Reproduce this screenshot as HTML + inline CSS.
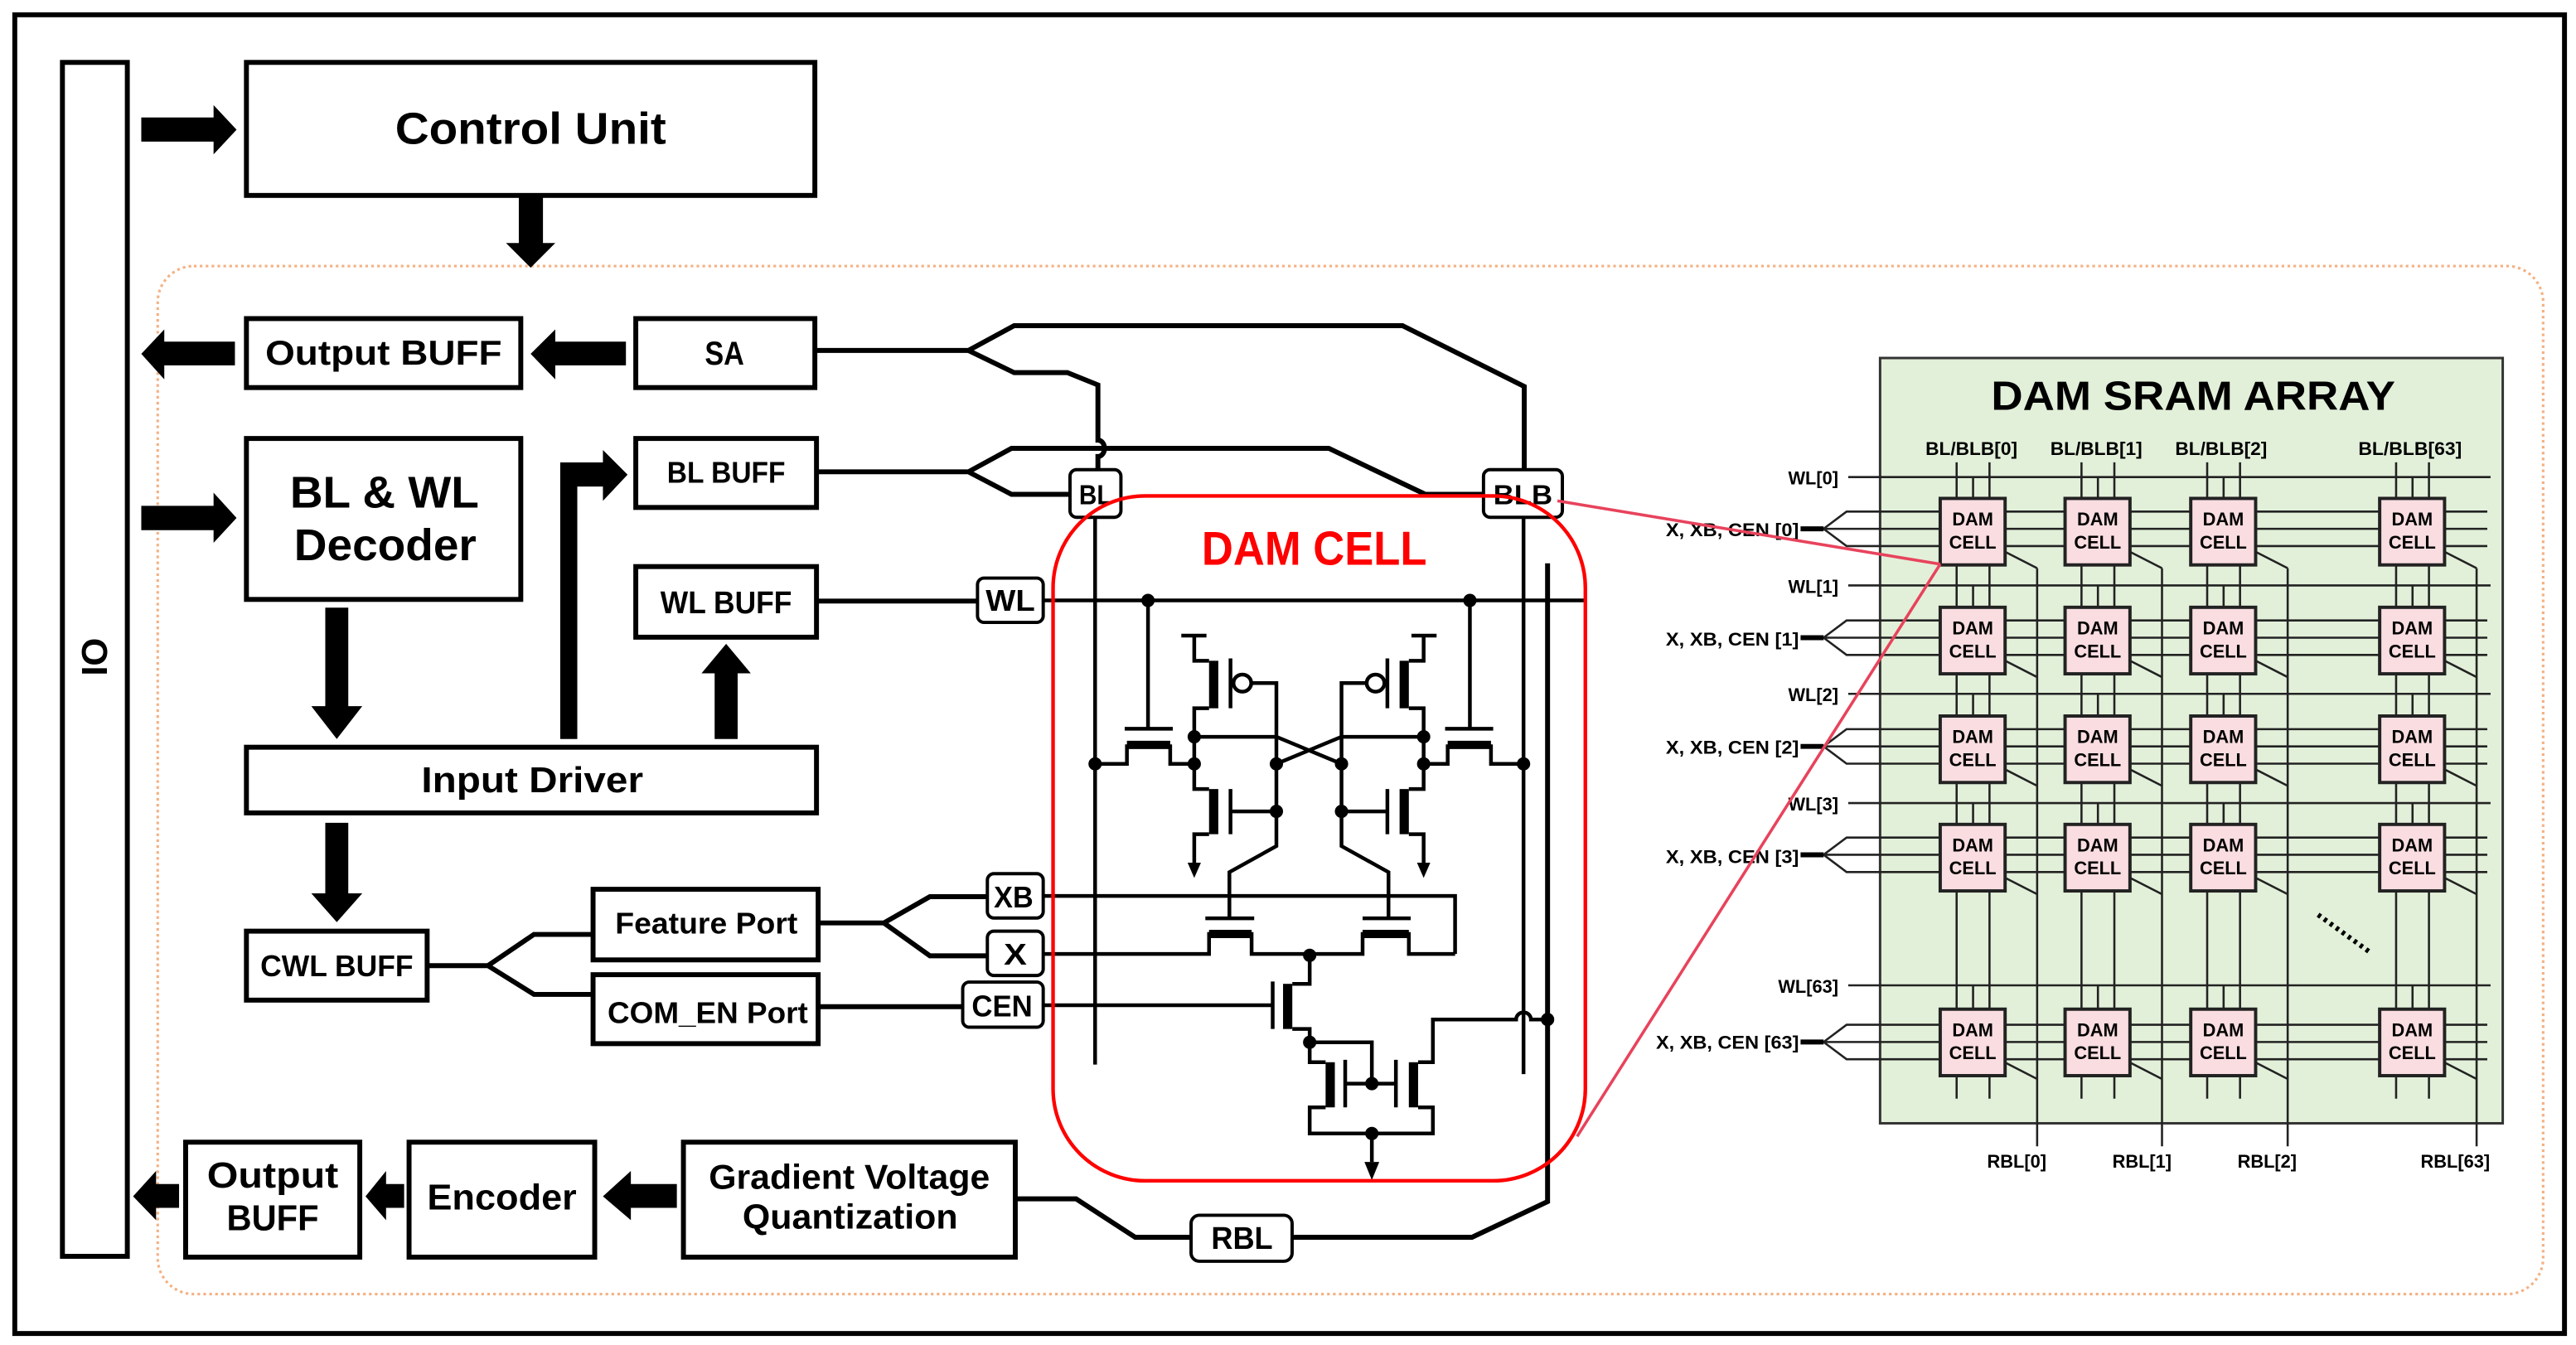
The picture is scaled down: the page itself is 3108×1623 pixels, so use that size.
<!DOCTYPE html>
<html><head><meta charset="utf-8"><style>
html,body{margin:0;padding:0;background:#fff}
svg{display:block}
text{font-family:"Liberation Sans",sans-serif;font-weight:bold;fill:#000}
.b{fill:#fff;stroke:#000;stroke-width:3}
.w{fill:none;stroke:#000;stroke-width:3;stroke-linejoin:miter}
.lb{fill:#fff;stroke:#000;stroke-width:2}
.cs{fill:none;stroke:#000;stroke-width:4.5;vector-effect:non-scaling-stroke}
.ct{fill:none;stroke:#000;stroke-width:10;vector-effect:non-scaling-stroke}
.al{fill:none;stroke:#222;stroke-width:1.3}
.cell{fill:#f9dde0;stroke:#222;stroke-width:2}
.ct2{font-size:11px}
</style></head><body>
<svg width="3108" height="1623" viewBox="0 0 1568 819" preserveAspectRatio="none" xmlns="http://www.w3.org/2000/svg">
<rect x="0" y="0" width="1568" height="819" fill="#fff"/>
<rect x="9" y="9" width="1552" height="803" fill="none" stroke="#000" stroke-width="3"/>

<!-- dotted region -->
<rect x="96" y="162" width="1452" height="626" rx="22" fill="none" stroke="#f4b183" stroke-width="1.6" stroke-dasharray="1.6 2"/>

<!-- IO bar -->
<rect x="38" y="38" width="39.5" height="727" class="b"/>
<text transform="translate(65,400) rotate(-90)" font-size="22" text-anchor="middle">IO</text>

<!-- Control unit -->
<rect x="150" y="38" width="346" height="81" class="b"/>
<text x="323" y="87.5" font-size="27" text-anchor="middle" textLength="165" lengthAdjust="spacingAndGlyphs">Control Unit</text>
<polygon points="86,71.5 130,71.5 130,64 144,79 130,94 130,86.2 86,86.2"/>
<polygon points="315.8,119 330.5,119 330.5,148 338,148 323,163 308,148 315.8,148"/>

<!-- Output BUFF top -->
<rect x="150" y="194" width="167" height="42" class="b"/>
<text x="233.5" y="222" font-size="21" text-anchor="middle" textLength="144" lengthAdjust="spacingAndGlyphs">Output BUFF</text>
<polygon points="143,208 100,208 100,200.6 86,215.5 100,231 100,222.5 143,222.5"/>
<rect x="387" y="194" width="109" height="42" class="b"/>
<text x="441" y="222" font-size="20" text-anchor="middle" textLength="24" lengthAdjust="spacingAndGlyphs">SA</text>
<polygon points="381,208 338,208 338,200.6 323,215.5 338,231 338,222.5 381,222.5"/>

<!-- Decoder -->
<rect x="150" y="267" width="167" height="98" class="b"/>
<text x="234" y="309" font-size="27" text-anchor="middle" textLength="115" lengthAdjust="spacingAndGlyphs">BL &amp; WL</text>
<text x="234.5" y="341" font-size="27" text-anchor="middle" textLength="111" lengthAdjust="spacingAndGlyphs">Decoder</text>
<polygon points="86,308 130,308 130,300 144,315.4 130,330.5 130,322.8 86,322.8"/>

<rect x="387" y="267" width="110" height="42" class="b"/>
<text x="442" y="294" font-size="18" text-anchor="middle" textLength="72" lengthAdjust="spacingAndGlyphs">BL BUFF</text>
<rect x="387" y="345" width="110" height="43" class="b"/>
<text x="442" y="373.5" font-size="19" text-anchor="middle" textLength="80" lengthAdjust="spacingAndGlyphs">WL BUFF</text>

<!-- arrows around input driver -->
<polygon points="198,370 212,370 212,430 220.5,430 205,450 189.5,430 198,430"/>
<path d="M341,450 V281.6 H367 V274 L382,289 L367,305 V296.3 H351.4 V450 Z"/>
<polygon points="435,450 449,450 449,410 457,410 442,392 427,410 435,410"/>
<rect x="150" y="455" width="347" height="40" class="b"/>
<text x="324" y="482.5" font-size="22" text-anchor="middle" textLength="135" lengthAdjust="spacingAndGlyphs">Input Driver</text>
<polygon points="198,501 212,501 212,544 220.5,544 205,561.5 189.5,544 198,544"/>

<!-- CWL buff, ports -->
<rect x="150" y="567" width="110" height="42" class="b"/>
<text x="205" y="594.5" font-size="18" text-anchor="middle" textLength="93" lengthAdjust="spacingAndGlyphs">CWL BUFF</text>
<path class="w" d="M260,588 H297 L325,569 H361 M297,588 L325,605.5 H361"/>
<rect x="361" y="541.5" width="137" height="43" class="b"/>
<text x="430" y="568.5" font-size="18" text-anchor="middle" textLength="111" lengthAdjust="spacingAndGlyphs">Feature Port</text>
<rect x="361" y="593.5" width="137" height="42" class="b"/>
<text x="430.8" y="623" font-size="18" text-anchor="middle" textLength="122" lengthAdjust="spacingAndGlyphs">COM_EN Port</text>
<path class="w" d="M498,562 H538 L566,546 H601 M538,562 L566,582 H601 M498,613 H586"/>

<!-- bottom row -->
<rect x="113" y="695.5" width="106" height="70" class="b"/>
<text x="166" y="723" font-size="22" text-anchor="middle" textLength="80" lengthAdjust="spacingAndGlyphs">Output</text>
<text x="166" y="749" font-size="22" text-anchor="middle" textLength="56" lengthAdjust="spacingAndGlyphs">BUFF</text>
<rect x="249" y="695.5" width="113" height="70" class="b"/>
<text x="305.5" y="736.5" font-size="22" text-anchor="middle" textLength="91" lengthAdjust="spacingAndGlyphs">Encoder</text>
<rect x="416" y="695.5" width="202" height="70" class="b"/>
<text x="517" y="724" font-size="21" text-anchor="middle" textLength="171" lengthAdjust="spacingAndGlyphs">Gradient Voltage</text>
<text x="517.5" y="748" font-size="21" text-anchor="middle" textLength="131" lengthAdjust="spacingAndGlyphs">Quantization</text>
<polygon points="412,721 384,721 384,713 367,728.5 384,743 384,735.5 412,735.5"/>
<polygon points="246,721 235,721 235,713 222.5,728.5 235,743 235,735.5 246,735.5"/>
<polygon points="109,721 95,721 95,713 81,728.5 95,743 95,735.5 109,735.5"/>

<!-- SA / BL BUFF wiring -->
<path class="w" d="M496,213.4 H589.5 L617.3,198.3 H853.7 L927.8,235.3 V287"/>
<path class="w" d="M589.5,213.4 L617.3,226.9 H649.7 L668.3,234.4 V268 a4,5 0 0 1 0,10 V286"/>
<path class="w" d="M497,287.3 H589.5 L615.7,273 H808.8 L867.6,301 H904 M589.5,287.3 L615.7,301 H652"/>
<path class="w" d="M497,366 H596"/>
<path class="w" d="M618,730 H655 L691,753.4 H725 M786,753.4 H896 L942,731.7 V343"/>

<!-- DAM cell circuit (zoom coords) -->
<g transform="translate(625.6,282.3) scale(0.2252,0.2893)">
<path class="cs" d="M182,110 V1265 M1340,110 V1285 M45,288 H1505 M325,288 V555 M1195,288 V555"/>
<!-- access transistors -->
<path class="cs" d="M262,558 H392 M182,632 H268 V595 H385 V632 H455"/>
<path class="ct" d="M268,592 H385"/>
<path class="cs" d="M1258,558 H1128 M1338,632 H1252 V595 H1135 V632 H1065"/>
<path class="ct" d="M1252,592 H1135"/>
<!-- left inverter -->
<path class="cs" d="M415,362 H483 M450,362 V415 H490 M490,515 H450 V685 H490 M490,780 H450 V840 M548,410 V515 M605,462 H672 V805 L545,860 V957 M548,685 V780 M548,732 H672"/>
<rect x="490" y="415" width="25" height="100"/><rect x="490" y="685" width="25" height="95"/>
<ellipse cx="580" cy="462" rx="24" ry="18" fill="#fff" stroke="#000" stroke-width="4.5" vector-effect="non-scaling-stroke"/>
<polygon points="432,840 468,840 450,872"/>
<!-- right inverter -->
<path class="cs" d="M1105,362 H1037 M1070,362 V415 H1030 M1030,515 H1070 V685 H1030 M1030,780 H1070 V840 M972,410 V515 M915,462 H848 V805 L975,860 V957 M972,685 V780 M972,732 H848"/>
<rect x="1005" y="415" width="25" height="100"/><rect x="1005" y="685" width="25" height="95"/>
<ellipse cx="940" cy="462" rx="24" ry="18" fill="#fff" stroke="#000" stroke-width="4.5" vector-effect="non-scaling-stroke"/>
<polygon points="1052,840 1088,840 1070,872"/>
<!-- cross -->
<path class="cs" d="M450,575 H672 L848,632 M1070,575 H848 L672,632"/>
<!-- XB / X -->
<path class="cs" d="M45,910 H1155 V1032 M45,1032 H490 V990 H605 V1032 H905 V990 H1030 V1032 H1155 M480,957 H612 M905,957 H1035"/>
<path class="ct" d="M490,990 H605 M905,990 H1030"/>
<!-- CEN stack -->
<path class="cs" d="M762,1032 V1095 H715 M715,1190 H762 V1260 H805 M662,1090 V1190 M45,1140 H662 M762,1218 H930 V1305 M858,1305 H995 M858,1255 V1355 M995,1255 V1355 M805,1355 H762 V1410 H1095 V1355 H1055 M1055,1260 H1095 V1170 H1320 a20,15 0 0 1 40,0 H1405 M930,1410 V1470"/>
<rect x="690" y="1095" width="25" height="95"/>
<rect x="805" y="1260" width="25" height="95"/><rect x="1030" y="1260" width="25" height="95"/>
<polygon points="910,1470 950,1470 930,1508"/>
<g>
<ellipse cx="325" cy="288" rx="18" ry="14"/><ellipse cx="1195" cy="288" rx="18" ry="14"/>
<ellipse cx="182" cy="632" rx="18" ry="14"/><ellipse cx="1340" cy="632" rx="18" ry="14"/>
<ellipse cx="450" cy="575" rx="18" ry="14"/><ellipse cx="450" cy="632" rx="18" ry="14"/>
<ellipse cx="1070" cy="575" rx="18" ry="14"/><ellipse cx="1070" cy="632" rx="18" ry="14"/>
<ellipse cx="672" cy="632" rx="18" ry="14"/><ellipse cx="848" cy="632" rx="18" ry="14"/>
<ellipse cx="672" cy="732" rx="18" ry="14"/><ellipse cx="848" cy="732" rx="18" ry="14"/>
<ellipse cx="762" cy="1035" rx="18" ry="14"/><ellipse cx="762" cy="1218" rx="18" ry="14"/>
<ellipse cx="930" cy="1305" rx="18" ry="14"/><ellipse cx="930" cy="1410" rx="18" ry="14"/>
<ellipse cx="1405" cy="1170" rx="18" ry="14"/>
</g>
</g>

<!-- label boxes -->
<rect x="651.3" y="286" width="31" height="29" rx="4" class="lb"/>
<text x="666.8" y="307" font-size="17" text-anchor="middle" textLength="20" lengthAdjust="spacingAndGlyphs">BL</text>
<rect x="903" y="286" width="48" height="29" rx="4" class="lb"/>
<text x="927" y="307" font-size="17" text-anchor="middle" textLength="36" lengthAdjust="spacingAndGlyphs">BLB</text>
<rect x="595" y="352" width="40" height="27" rx="4" class="lb"/>
<text x="615" y="372" font-size="18" text-anchor="middle" textLength="30" lengthAdjust="spacingAndGlyphs">WL</text>
<rect x="601" y="532" width="34" height="27" rx="4" class="lb"/>
<text x="617" y="552.5" font-size="18" text-anchor="middle" textLength="24" lengthAdjust="spacingAndGlyphs">XB</text>
<rect x="601" y="567" width="34" height="27" rx="4" class="lb"/>
<text x="618" y="587.5" font-size="18" text-anchor="middle" textLength="14" lengthAdjust="spacingAndGlyphs">X</text>
<rect x="586" y="598" width="49" height="27.5" rx="4" class="lb"/>
<text x="610" y="619" font-size="18" text-anchor="middle" textLength="37" lengthAdjust="spacingAndGlyphs">CEN</text>
<rect x="725" y="740" width="61.5" height="28" rx="5" class="lb"/>
<text x="756" y="760.5" font-size="19" text-anchor="middle" textLength="37.5" lengthAdjust="spacingAndGlyphs">RBL</text>

<!-- red outline -->
<rect x="641" y="302" width="324" height="417" rx="56" fill="none" stroke="#ff0000" stroke-width="2.2"/>
<text x="800" y="344" font-size="29" text-anchor="middle" textLength="137" lengthAdjust="spacingAndGlyphs" style="fill:#ff0000">DAM CELL</text>

<!-- ARRAY -->
<rect x="1144.4" y="218" width="1379" height="466" fill="#e2f0d9" stroke="#333" stroke-width="1.5" transform="translate(0,0)" style="width:379px"/>
<text x="1335" y="249.5" font-size="25" text-anchor="middle" textLength="246" lengthAdjust="spacingAndGlyphs">DAM SRAM ARRAY</text>
<g font-size="11" text-anchor="middle">
<text x="1200" y="277" textLength="56" lengthAdjust="spacingAndGlyphs">BL/BLB[0]</text>
<text x="1276" y="277" textLength="56" lengthAdjust="spacingAndGlyphs">BL/BLB[1]</text>
<text x="1352" y="277" textLength="56" lengthAdjust="spacingAndGlyphs">BL/BLB[2]</text>
<text x="1467" y="277" textLength="63" lengthAdjust="spacingAndGlyphs">BL/BLB[63]</text>
</g>
<!-- WL lines -->
<path class="al" d="M1125,290.5 H1516 M1125,356.5 H1516 M1125,422.5 H1516 M1125,489 H1516 M1125,600 H1516"/>
<g font-size="11" text-anchor="end">
<text x="1119" y="295">WL[0]</text><text x="1119" y="361">WL[1]</text><text x="1119" y="427">WL[2]</text><text x="1119" y="493.5">WL[3]</text><text x="1119" y="604.5">WL[63]</text>
<text x="1095" y="326.5" textLength="81" lengthAdjust="spacingAndGlyphs">X, XB, CEN [0]</text>
<text x="1095" y="393" textLength="81" lengthAdjust="spacingAndGlyphs">X, XB, CEN [1]</text>
<text x="1095" y="459" textLength="81" lengthAdjust="spacingAndGlyphs">X, XB, CEN [2]</text>
<text x="1095" y="525.5" textLength="81" lengthAdjust="spacingAndGlyphs">X, XB, CEN [3]</text>
<text x="1095" y="638.5" textLength="87" lengthAdjust="spacingAndGlyphs">X, XB, CEN [63]</text>
</g>
<!-- X/XB/CEN triple lines -->
<path class="al" d="M1110,322 L1124,311.5 H1514 M1110,322 H1514 M1110,322 L1124,332.5 H1514
M1110,388.3 L1124,377.8 H1514 M1110,388.3 H1514 M1110,388.3 L1124,398.8 H1514
M1110,454.5 L1124,444 H1514 M1110,454.5 H1514 M1110,454.5 L1124,465 H1514
M1110,520.5 L1124,510 H1514 M1110,520.5 H1514 M1110,520.5 L1124,531 H1514
M1110,634.5 L1124,624 H1514 M1110,634.5 H1514 M1110,634.5 L1124,645 H1514"/>
<path stroke="#000" stroke-width="3" d="M1096,322 H1110 M1096,388.3 H1110 M1096,454.5 H1110 M1096,520.5 H1110 M1096,634.5 H1110"/>
<!-- BL lines, stubs, RBL -->
<path class="al" d="M1191,281.5 V669 M1211,281.5 V669 M1267,281.5 V669 M1287,281.5 V669 M1343.5,281.5 V669 M1363.5,281.5 V669 M1458.5,281.5 V669 M1478.5,281.5 V669
M1201,290.5 V304 M1277,290.5 V304 M1353.5,290.5 V304 M1468.5,290.5 V304
M1201,356.5 V370 M1277,356.5 V370 M1353.5,356.5 V370 M1468.5,356.5 V370
M1201,422.5 V436 M1277,422.5 V436 M1353.5,422.5 V436 M1468.5,422.5 V436
M1201,489 V502 M1277,489 V502 M1353.5,489 V502 M1468.5,489 V502
M1201,600 V614 M1277,600 V614 M1353.5,600 V614 M1468.5,600 V614
M1240,346 V698 M1316,346 V698 M1392.5,346 V698 M1507.5,346 V698"/>
<g>
<rect class="cell" x="1181" y="303.5" width="39.5" height="40.5"/><rect class="cell" x="1257" y="303.5" width="39.5" height="40.5"/><rect class="cell" x="1333.5" y="303.5" width="39.5" height="40.5"/><rect class="cell" x="1448.5" y="303.5" width="39.5" height="40.5"/>
<rect class="cell" x="1181" y="369.8" width="39.5" height="40.5"/><rect class="cell" x="1257" y="369.8" width="39.5" height="40.5"/><rect class="cell" x="1333.5" y="369.8" width="39.5" height="40.5"/><rect class="cell" x="1448.5" y="369.8" width="39.5" height="40.5"/>
<rect class="cell" x="1181" y="436" width="39.5" height="40.5"/><rect class="cell" x="1257" y="436" width="39.5" height="40.5"/><rect class="cell" x="1333.5" y="436" width="39.5" height="40.5"/><rect class="cell" x="1448.5" y="436" width="39.5" height="40.5"/>
<rect class="cell" x="1181" y="502" width="39.5" height="40.5"/><rect class="cell" x="1257" y="502" width="39.5" height="40.5"/><rect class="cell" x="1333.5" y="502" width="39.5" height="40.5"/><rect class="cell" x="1448.5" y="502" width="39.5" height="40.5"/>
<rect class="cell" x="1181" y="614.5" width="39.5" height="40.5"/><rect class="cell" x="1257" y="614.5" width="39.5" height="40.5"/><rect class="cell" x="1333.5" y="614.5" width="39.5" height="40.5"/><rect class="cell" x="1448.5" y="614.5" width="39.5" height="40.5"/>
</g>
<path class="al" stroke-width="1.6" d="M1220.5,336 L1240,346 M1296.5,336 L1316,346 M1373,336 L1392.5,346 M1488,336 L1507.5,346
M1220.5,402.3 L1240,412.3 M1296.5,402.3 L1316,412.3 M1373,402.3 L1392.5,412.3 M1488,402.3 L1507.5,412.3
M1220.5,468.5 L1240,478.5 M1296.5,468.5 L1316,478.5 M1373,468.5 L1392.5,478.5 M1488,468.5 L1507.5,478.5
M1220.5,534.5 L1240,544.5 M1296.5,534.5 L1316,544.5 M1373,534.5 L1392.5,544.5 M1488,534.5 L1507.5,544.5
M1220.5,647 L1240,657 M1296.5,647 L1316,657 M1373,647 L1392.5,657 M1488,647 L1507.5,657"/>
<g class="ct2" text-anchor="middle">
<text x="1200.8" y="320">DAM</text><text x="1200.8" y="334">CELL</text><text x="1276.8" y="320">DAM</text><text x="1276.8" y="334">CELL</text><text x="1353.3" y="320">DAM</text><text x="1353.3" y="334">CELL</text><text x="1468.3" y="320">DAM</text><text x="1468.3" y="334">CELL</text>
<text x="1200.8" y="386.3">DAM</text><text x="1200.8" y="400.3">CELL</text><text x="1276.8" y="386.3">DAM</text><text x="1276.8" y="400.3">CELL</text><text x="1353.3" y="386.3">DAM</text><text x="1353.3" y="400.3">CELL</text><text x="1468.3" y="386.3">DAM</text><text x="1468.3" y="400.3">CELL</text>
<text x="1200.8" y="452.5">DAM</text><text x="1200.8" y="466.5">CELL</text><text x="1276.8" y="452.5">DAM</text><text x="1276.8" y="466.5">CELL</text><text x="1353.3" y="452.5">DAM</text><text x="1353.3" y="466.5">CELL</text><text x="1468.3" y="452.5">DAM</text><text x="1468.3" y="466.5">CELL</text>
<text x="1200.8" y="518.5">DAM</text><text x="1200.8" y="532.5">CELL</text><text x="1276.8" y="518.5">DAM</text><text x="1276.8" y="532.5">CELL</text><text x="1353.3" y="518.5">DAM</text><text x="1353.3" y="532.5">CELL</text><text x="1468.3" y="518.5">DAM</text><text x="1468.3" y="532.5">CELL</text>
<text x="1200.8" y="631">DAM</text><text x="1200.8" y="645">CELL</text><text x="1276.8" y="631">DAM</text><text x="1276.8" y="645">CELL</text><text x="1353.3" y="631">DAM</text><text x="1353.3" y="645">CELL</text><text x="1468.3" y="631">DAM</text><text x="1468.3" y="645">CELL</text>
</g>
<path d="M1411,557 L1443.5,580.5" stroke="#000" stroke-width="3" stroke-dasharray="2 2.5" fill="none"/>
<g font-size="11" text-anchor="middle">
<text x="1227.6" y="711">RBL[0]</text><text x="1303.8" y="711">RBL[1]</text><text x="1380" y="711">RBL[2]</text><text x="1494.5" y="711">RBL[63]</text>
</g>

<!-- red connector lines -->
<path d="M948,305 L1181,343.5 M960,692 L1181,343.5" stroke="#e8435c" stroke-width="1.8" fill="none"/>
</svg>
</body></html>
